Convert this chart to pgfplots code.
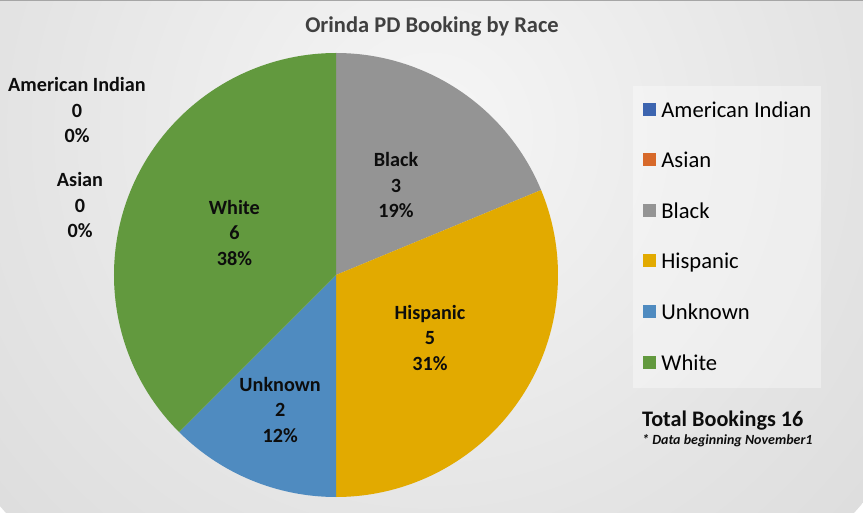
\documentclass[border=0pt]{standalone}
\usepackage{pgfplots}
\usepackage{pgfplotstable}
\pgfplotsset{compat=1.18}
\usepackage{fontspec}
\setmainfont{Carlito}
\definecolor{slice0}{HTML}{3C64AF}
\definecolor{slice1}{HTML}{D7692A}
\definecolor{slice2}{HTML}{949494}
\definecolor{slice3}{HTML}{E2AA00}
\definecolor{slice4}{HTML}{4F8BC0}
\definecolor{slice5}{HTML}{62993E}
\definecolor{titlegray}{HTML}{404040}
\definecolor{labtext}{HTML}{0D0D0D}
\definecolor{bgA}{HTML}{F6F6F6}
\definecolor{bgB}{HTML}{E4E4E4}
\definecolor{bgC}{HTML}{C8C8C8}
\pgfdeclareradialshading{bgshade}{\pgfpoint{0bp}{0bp}}{color(0bp)=(bgA); color(18bp)=(bgB); color(50bp)=(bgC)}
\newcommand\fs[2]{\fontsize{#1}{#2}\selectfont}

\pgfplotstableread[col sep=comma]{
race,count,pct,lr
American Indian,0,0,0
Asian,0,0,0
Black,3,19,108
Hispanic,5,31,113
Unknown,2,12,146
White,6,38,110
}\racedata

\begin{document}
\begin{tikzpicture}
\def\total{0}
\pgfplotsforeachungrouped \i in {0,...,5}{%
  \pgfplotstablegetelem{\i}{count}\of\racedata
  \pgfmathtruncatemacro\total{\total+\pgfplotsretval}%
  \xdef\total{\total}%
}
\def\curang{90}
\pgfplotsforeachungrouped \i in {0,...,5}{%
  \pgfplotstablegetelem{\i}{count}\of\racedata
  \expandafter\xdef\csname cnt\i\endcsname{\pgfplotsretval}%
  \pgfmathsetmacro\sweep{\pgfplotsretval/\total*360}%
  \pgfmathsetmacro\endang{\curang-\sweep}%
  \pgfmathsetmacro\midang{(\curang+\endang)/2}%
  \expandafter\xdef\csname sA\i\endcsname{\curang}%
  \expandafter\xdef\csname eA\i\endcsname{\endang}%
  \expandafter\xdef\csname mA\i\endcsname{\midang}%
  \xdef\curang{\endang}%
  \pgfplotstablegetelem{\i}{race}\of\racedata
  \expandafter\xdef\csname nm\i\endcsname{\pgfplotsretval}%
  \pgfplotstablegetelem{\i}{pct}\of\racedata
  \expandafter\xdef\csname pc\i\endcsname{\pgfplotsretval}%
  \pgfplotstablegetelem{\i}{lr}\of\racedata
  \expandafter\xdef\csname lr\i\endcsname{\pgfplotsretval}%
}
\path[use as bounding box] (0,0) rectangle (863pt,512pt);
\begin{scope}
\clip (0,0) rectangle (863pt,512pt);
\shade[shading=bgshade] (430pt,380pt) circle (570pt);
\end{scope}
\fill[black!35] (0,511pt) rectangle (863pt,512pt);
\begin{axis}[
  x=1pt, y=1pt,
  xmin=-336, xmax=527, ymin=-237, ymax=275,
  hide axis, clip=false,
  at={(0,0)}, anchor=south west,
  legend cell align=left,
  legend image code/.code={\fill[#1, draw=none, fill opacity=1] (0pt,-5pt) rectangle (13pt,8pt); \path (18pt,0pt);},
  legend style={at={(axis cs:297,189)}, anchor=north west, draw=none,
    fill=white, fill opacity=0.35, text opacity=1,
    font=\fs{22.6}{26}, row sep=29.6pt, inner xsep=10pt, inner ysep=14pt,
    nodes={inner xsep=0pt, inner ysep=0pt, text height=17pt, text depth=4pt}},
]
\pgfplotsinvokeforeach{2,...,5}{
  \fill[slice#1] (axis cs:0,0) -- ++(\csname sA#1\endcsname:222pt)
    arc[start angle=\csname sA#1\endcsname, end angle=\csname eA#1\endcsname, radius=222pt] -- cycle;
}
\pgfplotsinvokeforeach{2,...,5}{
  \path (axis cs:0,0) ++(\csname mA#1\endcsname:\csname lr#1\endcsname pt)
    node[align=center, font=\bfseries\fs{20.2}{25.5}, text=labtext]
    {\csname nm#1\endcsname\\\csname cnt#1\endcsname\\\csname pc#1\endcsname\%};
}
\node[align=center, font=\bfseries\fs{20.2}{25.5}, text=labtext] at (axis cs:-259,165)
  {\csname nm0\endcsname\\\csname cnt0\endcsname\\\csname pc0\endcsname\%};
\node[align=center, font=\bfseries\fs{20.2}{25.5}, text=labtext] at (axis cs:-256,70)
  {\csname nm1\endcsname\\\csname cnt1\endcsname\\\csname pc1\endcsname\%};
\pgfplotsinvokeforeach{0,...,5}{
  \addlegendimage{fill=slice#1}
  \addlegendentry{\csname nm#1\endcsname}
}
\node[anchor=base west, font=\bfseries\fs{22.2}{24}, text=labtext, inner sep=0pt]
  at (axis cs:306,-151.5) {Total Bookings \total};
\node[anchor=base west, font=\bfseries\itshape\fs{14}{16}, text=labtext, inner sep=0pt]
  at (axis cs:306,-170) {* Data beginning November1};
\node[font=\bfseries\fs{22.5}{26}, text=titlegray] at (axis cs:96,248) {Orinda PD Booking by Race};
\end{axis}
\end{tikzpicture}
\end{document}
